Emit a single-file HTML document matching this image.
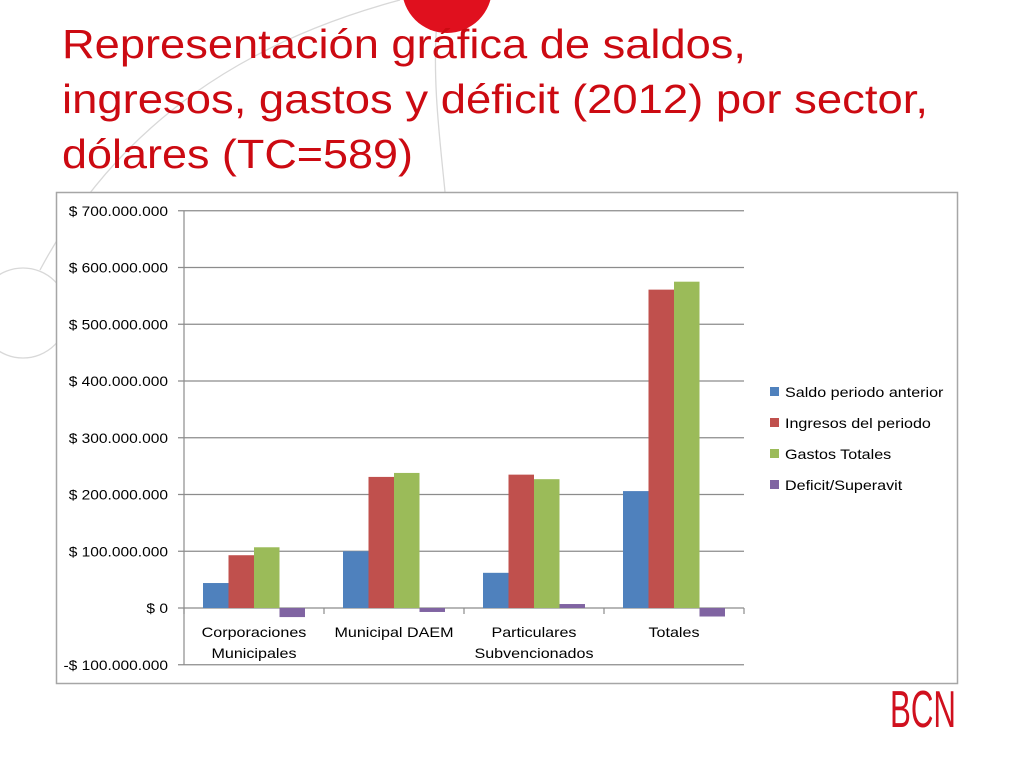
<!DOCTYPE html>
<html><head><meta charset="utf-8"><style>
html,body{margin:0;padding:0;background:#fff;width:1024px;height:768px;overflow:hidden;font-family:"Liberation Sans",sans-serif}
svg{position:absolute;left:0;top:0}
</style></head><body>
<svg width="1024" height="768">
  <g fill="none" stroke="#d8d8d8" stroke-width="1.3">
    <path d="M400,0 C250,40 120,120 40,270"/>
    <circle cx="23" cy="313" r="45"/>
    <path d="M437,20 C432,80 440,140 445,192"/>
  </g>
  <circle cx="447" cy="-12" r="45" fill="#e0101e"/>
  <g font-size="41" fill="#cc0a12" font-family="Liberation Sans, sans-serif" lengthAdjust="spacingAndGlyphs">
    <text x="62" y="58" textLength="684" lengthAdjust="spacingAndGlyphs">Representación gráfica de saldos,</text>
    <text x="62" y="113" textLength="866" lengthAdjust="spacingAndGlyphs">ingresos, gastos y déficit (2012) por sector,</text>
    <text x="62" y="168" textLength="351" lengthAdjust="spacingAndGlyphs">dólares (TC=589)</text>
  </g>
  <rect x="56.5" y="192.5" width="901" height="491" fill="#fff" stroke="#a6a6a6" stroke-width="1.5"/>
  <g id="grid"></g>
  <g id="bars"></g>
  <g id="axes"></g>
  <g id="legend"></g>
  <text x="890" y="727" font-size="52" fill="#d0101e" textLength="66" lengthAdjust="spacingAndGlyphs" font-family="Liberation Sans Narrow, Liberation Sans, sans-serif" style="font-weight:100">BCN</text>
</svg>
<script>
const categories=[["Corporaciones","Municipales"],["Municipal DAEM"],["Particulares","Subvencionados"],["Totales"]];
const seriesNames=["Saldo periodo anterior","Ingresos del periodo","Gastos Totales","Deficit/Superavit"];
const saldo=[44e6,100e6,62e6,206e6];
const ingresos=[93e6,231e6,235e6,561e6];
const gastos=[107e6,238e6,227e6,575e6];
const deficit=[-16e6,-7e6,7e6,-15e6];
const yTicks=[-100e6,0,100e6,200e6,300e6,400e6,500e6,600e6,700e6];
const yTickLabels=["-$ 100.000.000","$ 0","$ 100.000.000","$ 200.000.000","$ 300.000.000","$ 400.000.000","$ 500.000.000","$ 600.000.000","$ 700.000.000"];
const colors=["#4f81bd","#c0504d","#9bbb59","#8064a2"];
const NS="http://www.w3.org/2000/svg";
const X0=184,X1=744,Y0=608,PX=56.75/100e6;
const y=v=>Y0-v*PX;
const gw=(X1-X0)/categories.length;
const SC=1.15;
function mk(tag,attrs,parent){const e=document.createElementNS(NS,tag);for(const k in attrs)e.setAttribute(k,attrs[k]);document.getElementById(parent).appendChild(e);return e;}
function stretch(t){const w=t.getComputedTextLength();t.setAttribute('textLength',w*SC);t.setAttribute('lengthAdjust','spacingAndGlyphs');}
yTicks.forEach((t,i)=>{
  const l=mk("line",{x1:178,x2:X1,y1:y(t),y2:y(t),stroke:"#8c8c8c","stroke-width":1.2},"grid");
  
  
  const tx=mk("text",{x:168,y:y(t)+5,"text-anchor":"end","font-size":13.5,fill:"#000"},"axes");
  tx.textContent=yTickLabels[i];
  
  
  stretch(tx);
});
const va=mk("line",{x1:X0,x2:X0,y1:y(700e6),y2:y(-100e6),stroke:"#8c8c8c","stroke-width":1.2},"axes");


for(let i=0;i<=categories.length;i++){
  const t=mk("line",{x1:X0+i*gw,x2:X0+i*gw,y1:Y0,y2:Y0+6,stroke:"#8c8c8c","stroke-width":1.2},"axes");
  
  
}
const all=[saldo,ingresos,gastos,deficit];
const bw=25.5,off=(gw-4*bw)/2;
categories.forEach((c,ci)=>{
  all.forEach((s,si)=>{
    const v=s[ci];const top=Math.min(y(v),Y0);
    const r=mk("rect",{x:X0+ci*gw+off+si*bw,y:top,width:bw,height:Math.abs(y(v)-Y0),fill:colors[si]},"bars");
    
    
  });
  c.forEach((ln,li)=>{
    const t=mk("text",{x:X0+ci*gw+gw/2,y:637+li*21,"text-anchor":"middle","font-size":14,fill:"#000"},"axes");
    t.textContent=ln;
    
    
    stretch(t);
  });
});
seriesNames.forEach((n,i)=>{
  const yy=392+i*31;
  const r=mk("rect",{x:770,y:yy-5,width:9,height:9,fill:colors[i]},"legend");
  
  
  const t=mk("text",{x:785,y:yy+5,"font-size":14,fill:"#000"},"legend");
  t.textContent=n;
  
  
  stretch(t);
});
</script>
</body></html>
